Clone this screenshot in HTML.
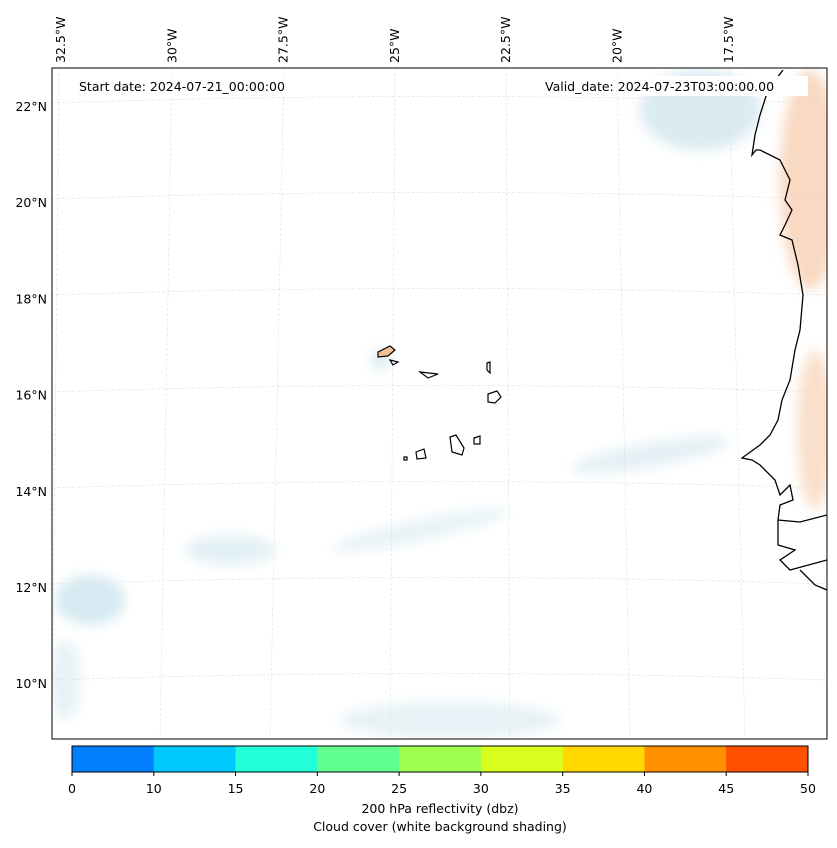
<!DOCTYPE html>
<html><head><meta charset="utf-8"><style>
body{margin:0;background:#fff;font-family:"Liberation Sans",sans-serif}
svg text{font-family:"DejaVu Sans","Liberation Sans",sans-serif;font-size:12.5px;fill:#000}
</style></head><body>
<svg width="837" height="843">
<defs><clipPath id="mc"><rect x="52" y="68" width="775" height="671"/></clipPath>
<filter id="bl"><feGaussianBlur stdDeviation="6"/></filter></defs>
<g clip-path="url(#mc)">
 <g filter="url(#bl)">
  <ellipse cx="700" cy="110" rx="60" ry="40" fill="#cfe6ee" opacity="0.8"/>
  <ellipse cx="810" cy="180" rx="30" ry="110" fill="#f6c9a6" opacity="0.7"/>
  <ellipse cx="815" cy="430" rx="18" ry="80" fill="#f8d2b4" opacity="0.7"/>
  <ellipse cx="90" cy="600" rx="35" ry="25" fill="#d6eaf2"/>
  <ellipse cx="230" cy="550" rx="45" ry="15" fill="#e2f0f5"/>
  <ellipse cx="420" cy="530" rx="90" ry="10" fill="#e6f2f6" transform="rotate(-12 420 530)"/>
  <ellipse cx="650" cy="455" rx="80" ry="12" fill="#e3f0f5" transform="rotate(-10 650 455)"/>
  <ellipse cx="450" cy="720" rx="110" ry="18" fill="#e6f2f6"/>
  <ellipse cx="380" cy="360" rx="8" ry="8" fill="#cfe3ee"/>
  <ellipse cx="65" cy="680" rx="15" ry="40" fill="#e6f2f6"/>
 </g>
 <g stroke="#ddd" stroke-width="0.6" stroke-dasharray="3,2" fill="none">
  <path d="M52,103 Q440,90 827,103"/><path d="M52,199 Q440,186 827,199"/><path d="M52,295 Q440,282 827,295"/><path d="M52,392 Q440,379 827,392"/><path d="M52,488 Q440,475 827,488"/><path d="M52,584 Q440,571 827,584"/><path d="M52,680 Q440,667 827,680"/>
  <path d="M59,68 L52,739"/><path d="M172,68 L160,739"/><path d="M284,68 L270,739"/><path d="M395,68 L390,739"/><path d="M506,68 L510,739"/><path d="M617,68 L630,739"/><path d="M729,68 L745,739"/>
 </g>
 <path d="M783,70 L768,90 L760,115 L755,135 L752,155 L756,150 L760,150 L780,160 L785,170 L790,180 L785,200 L792,210 L785,225 L780,235 L792,240 L798,265 L803,295 L800,330 L795,350 L790,380 L782,400 L778,420 L770,435 L760,445 L742,458 L752,460 L760,465 L775,480 L780,495 L790,485 L793,500 L780,505 L778,520 L800,522 L827,515 M778,520 L778,545 L795,550 L780,560 L790,570 L827,560 M800,570 L815,585 L827,590" fill="none" stroke="#000" stroke-width="1.3"/>
 <g fill="none" stroke="#000" stroke-width="1.2">
  <path d="M378,352 L390,346 L395,350 L388,356 L378,357Z" fill="#f4c09a"/>
  <path d="M390,360 L398,362 L393,365Z"/><path d="M420,372 L438,374 L428,378Z"/>
  <path d="M487,363 L490,362 L490,373 L487,370Z"/><path d="M488,394 L497,391 L501,397 L495,403 L488,402Z"/>
  <path d="M450,437 L456,435 L464,448 L462,455 L452,452Z"/><path d="M474,438 L480,436 L480,444 L474,444Z"/>
  <path d="M416,452 L424,449 L426,458 L417,459Z"/><path d="M404,457 L407,457 L407,460 L404,460Z"/>
 </g>
</g>
<rect x="52" y="68" width="775" height="671" fill="none" stroke="#000" stroke-width="1"/>
<rect x="74" y="76" width="240" height="20" fill="#fff"/>
<text x="79" y="91">Start date: 2024-07-21_00:00:00</text>
<rect x="540" y="76" width="268" height="20" fill="#fff"/>
<text x="545" y="91">Valid_date: 2024-07-23T03:00:00.00</text>
<g id="lat"></g>
<g id="lon"></g>
<g id="cb"></g>
<text x="440" y="813" text-anchor="middle">200 hPa reflectivity (dbz)</text>
<text x="440" y="831" text-anchor="middle">Cloud cover (white background shading)</text>
</svg>
<script>
const latLabels=["22°N","20°N","18°N","16°N","14°N","12°N","10°N"];
const latY=[22,20,18,16,14,12,10];
const lonLabels=["32.5°W","30°W","27.5°W","25°W","22.5°W","20°W","17.5°W"];
const lonVals=[-32.5,-30,-27.5,-25,-22.5,-20,-17.5];
const cbTicks=[0,10,15,20,25,30,35,40,45,50];
const cbColors=["#0080ff","#00c8ff","#20ffd8","#60ff90","#a0ff50","#d8ff20","#ffd800","#ff9000","#ff5000"];
const NS="http://www.w3.org/2000/svg";
const yLat=v=>106+(22-v)*48.1;
const xLon=v=>60+(v+32.5)*44.52;
const lat=document.getElementById('lat');
latLabels.forEach((l,i)=>{const t=document.createElementNS(NS,'text');


t.setAttribute('x',47);t.setAttribute('y',yLat(latY[i])+5);t.setAttribute('text-anchor','end');t.textContent=l;lat.appendChild(t);});
const lon=document.getElementById('lon');
lonLabels.forEach((l,i)=>{const t=document.createElementNS(NS,'text');


const x=xLon(lonVals[i])+5,y=63;t.setAttribute('transform',`translate(${x},${y}) rotate(-90)`);t.textContent=l;lon.appendChild(t);});
const cb=document.getElementById('cb');
const xCb=i=>72+i*(736/9);
cbColors.forEach((c,i)=>{const r=document.createElementNS(NS,'rect');


r.setAttribute('x',xCb(i));r.setAttribute('y',746);r.setAttribute('width',736/9+0.5);r.setAttribute('height',26);r.setAttribute('fill',c);cb.appendChild(r);});
const fr=document.createElementNS(NS,'rect');fr.setAttribute('x',72);fr.setAttribute('y',746);fr.setAttribute('width',736);fr.setAttribute('height',26);fr.setAttribute('fill','none');fr.setAttribute('stroke','#000');cb.appendChild(fr);
cbTicks.forEach((v,i)=>{const x=xCb(i);const ln=document.createElementNS(NS,'line');ln.setAttribute('x1',x);ln.setAttribute('x2',x);ln.setAttribute('y1',772);ln.setAttribute('y2',776);ln.setAttribute('stroke','#000');cb.appendChild(ln);
const t=document.createElementNS(NS,'text');


t.setAttribute('x',x);t.setAttribute('y',793);t.setAttribute('text-anchor','middle');t.textContent=v;cb.appendChild(t);});
</script>
</body></html>
